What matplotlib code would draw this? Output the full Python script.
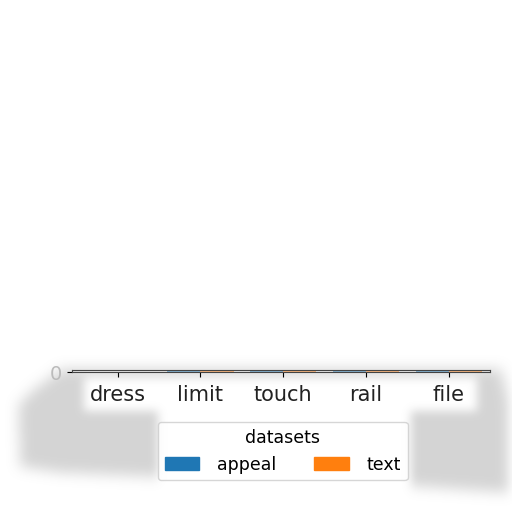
import numpy as np
import matplotlib
matplotlib.use("Agg")
import matplotlib.pyplot as plt
from matplotlib.path import Path

categories = ["dress", "limit", "touch", "rail", "file"]
series_names = ["appeal", "text"]
appeal = [0, 3, 4, 3, 4]
text = [0, 2, 2, 2, 2]
y_ticks = [0]


def box_blur(img, r, n=3):
    k = np.ones(2 * r + 1) / (2 * r + 1)
    for _ in range(n):
        img = np.apply_along_axis(lambda v: np.convolve(v, k, mode="same"), 0, img)
        img = np.apply_along_axis(lambda v: np.convolve(v, k, mode="same"), 1, img)
    return img


def poly_mask(pts, h=512, w=512):
    yy, xx = np.mgrid[0:h, 0:w]
    p = Path(pts)
    return p.contains_points(np.c_[xx.ravel(), yy.ravel()]).reshape(h, w).astype(float)


fig = plt.figure(figsize=(5.12, 5.12), dpi=100)

# grey smudge behind axis labels and legend, with white halo round the texts
grey = poly_mask([(62, 368), (500, 368), (508, 400), (508, 492), (420, 486),
                  (150, 476), (60, 472), (20, 466), (18, 405), (35, 388)])
clear = poly_mask([(84, 376), (476, 376), (476, 410), (410, 410), (410, 520),
                   (158, 520), (158, 410), (84, 410)])
smudge = box_blur(grey, 6) * (1 - box_blur(clear, 4)) * 0.42
bg = fig.add_axes([0, 0, 1, 1], zorder=0)
bg.imshow(np.dstack([np.full((512, 512, 3), 0.6), smudge]), aspect="auto")
bg.axis("off")

ax = fig.add_axes([0.141, 0.273, 0.816, 0.005], zorder=1)
ax.patch.set_alpha(0)
x = np.arange(len(categories))
width = 0.4
ax.bar(x - width / 2, appeal, width, color="tab:blue", alpha=0.5, label=series_names[0])
ax.bar(x + width / 2, text, width, color="tab:orange", alpha=0.5, label=series_names[1])
ax.set_xticks(x)
ax.set_xticklabels(categories, fontsize=15, color="#222222")
ax.set_yticks(y_ticks)
ax.tick_params(axis="y", labelsize=14, labelcolor="#bbbbbb")
ax.tick_params(axis="x", pad=6)
for s in ax.spines.values():
    s.set_color("#444444")
ax.set_xlim(-0.55, 4.5)
ax.set_ylim(0, 4)
ax.legend([plt.Rectangle((0, 0), 1, 1, color="tab:blue"),
           plt.Rectangle((0, 0), 1, 1, color="tab:orange")], series_names,
          title="datasets", ncol=2, fontsize=12.5, title_fontsize=12.5,
          handletextpad=1.0, columnspacing=2.2, borderaxespad=0,
          loc="upper center", bbox_to_anchor=(0.552, 0.176),
          bbox_transform=fig.transFigure)

fig.savefig("out.png", dpi=100)
